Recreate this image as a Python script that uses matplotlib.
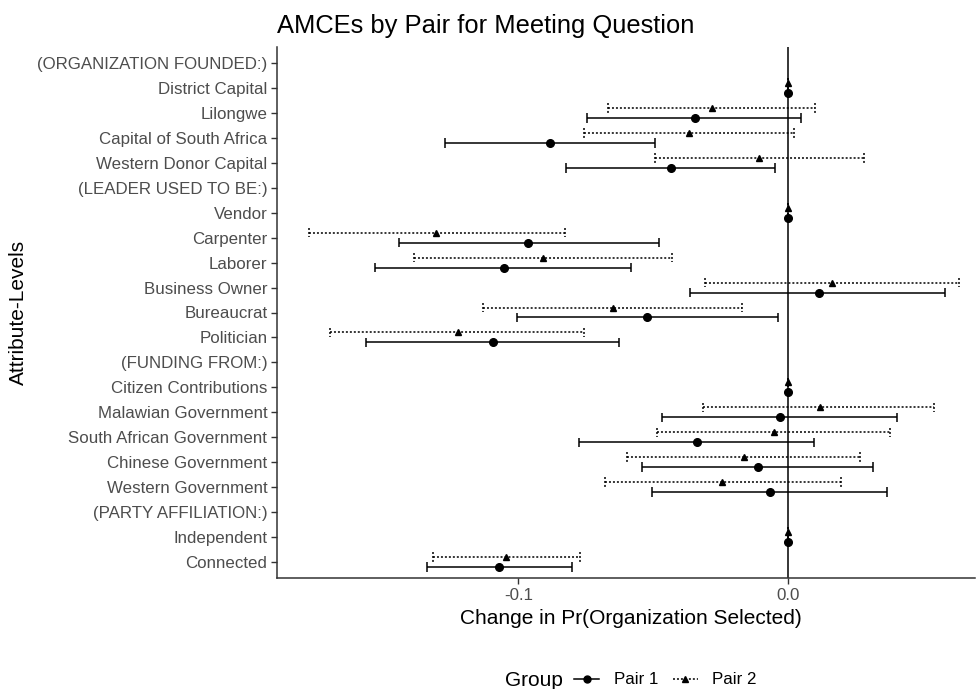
import numpy as np
import matplotlib
matplotlib.use("Agg")
import matplotlib.pyplot as plt
from matplotlib.lines import Line2D

plt.rcParams['font.family'] = ['Liberation Sans', 'DejaVu Sans']

nan = np.nan
categories = ["(ORGANIZATION FOUNDED:)", "District Capital", "Lilongwe", "Capital of South Africa",
              "Western Donor Capital", "(LEADER USED TO BE:)", "Vendor", "Carpenter", "Laborer",
              "Business Owner", "Bureaucrat", "Politician", "(FUNDING FROM:)", "Citizen Contributions",
              "Malawian Government", "South African Government", "Chinese Government",
              "Western Government", "(PARTY AFFILIATION:)", "Independent", "Connected"]

p1_est = [nan, 0, -0.0346, -0.0884, -0.0435, nan, 0, -0.0964, -0.1053, 0.0114, -0.0522, -0.1096,
          nan, 0, -0.0031, -0.0339, -0.0111, -0.0068, nan, 0, -0.1071]
p1_lo = [nan, 0, -0.0745, -0.1272, -0.0825, nan, 0, -0.1442, -0.1531, -0.0363, -0.1005, -0.1566,
         nan, 0, -0.0469, -0.0776, -0.0541, -0.0505, nan, 0, -0.1341]
p1_hi = [nan, 0, 0.0048, -0.0495, -0.0048, nan, 0, -0.0480, -0.0581, 0.0581, -0.0038, -0.0627,
         nan, 0, 0.0406, 0.0096, 0.0315, 0.0368, nan, 0, -0.0800]
p2_est = [nan, 0, -0.0283, -0.0369, -0.0108, nan, 0, -0.1306, -0.0909, 0.0162, -0.0651, -0.1224,
          nan, 0, 0.0119, -0.0053, -0.0164, -0.0245, nan, 0, -0.1045]
p2_lo = [nan, 0, -0.0667, -0.0757, -0.0495, nan, 0, -0.1778, -0.1389, -0.0308, -0.1132, -0.1699,
         nan, 0, -0.0315, -0.0485, -0.0596, -0.0680, nan, 0, -0.1316]
p2_hi = [nan, 0, 0.0101, 0.0023, 0.0283, nan, 0, -0.0826, -0.0429, 0.0634, -0.0171, -0.0755,
         nan, 0, 0.0543, 0.0379, 0.0267, 0.0197, nan, 0, -0.0772]

xticks = [-0.1, 0.0]
xticklabels = ["-0.1", "0.0"]

fig = plt.figure(figsize=(9.76, 6.89), dpi=100)
ax = fig.add_axes([277/976, (689-578)/689, (975-277)/976, (578-47)/689])

y = np.arange(len(categories))
dodge = 0.2
cap = 0.19
dot = (0, (1.3, 1.3))

ax.axvline(0, color='black', lw=1.1, zorder=1)

# Pair 2 (dotted, triangles) above
y2 = y - dodge
ax.hlines(y2, p2_lo, p2_hi, colors='black', lw=1.1, linestyles=[dot], zorder=2)
ax.vlines(p2_lo, y2 - cap, y2 + cap, colors='black', lw=1.1, linestyles=[dot], zorder=2)
ax.vlines(p2_hi, y2 - cap, y2 + cap, colors='black', lw=1.1, linestyles=[dot], zorder=2)
ax.plot(p2_est, y2, linestyle='none', marker='^', color='black', markersize=5, zorder=3)

# Pair 1 (solid, circles) below
y1 = y + dodge
ax.hlines(y1, p1_lo, p1_hi, colors='black', lw=1.1, zorder=2)
ax.vlines(p1_lo, y1 - cap, y1 + cap, colors='black', lw=1.1, zorder=2)
ax.vlines(p1_hi, y1 - cap, y1 + cap, colors='black', lw=1.1, zorder=2)
ax.plot(p1_est, y1, linestyle='none', marker='o', color='black', markersize=5.5, zorder=3)

ax.set_xlim(-0.1896, 0.0694)
ax.set_ylim(len(categories) - 1 + 0.64, -0.64)
ax.set_yticks(y)
ax.set_yticklabels(categories, color='#4D4D4D', fontsize=12.2)
ax.set_xticks(xticks)
ax.set_xticklabels(xticklabels, color='#4D4D4D', fontsize=12.2)
ax.tick_params(axis='both', length=4, width=1.0, color='#333333', pad=3)

for s in ['top', 'right']:
    ax.spines[s].set_visible(False)
for s in ['left', 'bottom']:
    ax.spines[s].set_color('#333333')
    ax.spines[s].set_linewidth(1.1)

ax.set_xlabel("Change in Pr(Organization Selected)", fontsize=15, color='black')
ax.xaxis.set_label_coords(0.507, -0.058)
ax.set_ylabel("Attribute-Levels", fontsize=15, color='black')
ax.yaxis.set_label_coords(-0.357, 0.5)

fig.text(277/976, 1 - 33/689, "AMCEs by Pair for Meeting Question", fontsize=18.4,
         ha='left', va='baseline', color='black')

fig.text(505/976, 1 - 680/689, "Group", fontsize=15, ha='left', va='center', color='black')
handles = [Line2D([], [], color='black', lw=1.1, marker='o', markersize=5),
           Line2D([], [], color='black', lw=1.1, linestyle=dot, marker='^', markersize=4.5)]
fig.legend(handles, ["Pair 1", "Pair 2"], loc='center left', bbox_to_anchor=(574/976, 1 - 680/689),
           ncol=2, frameon=False, fontsize=12.2, handlelength=1.5, handletextpad=0.85,
           columnspacing=0.85, borderaxespad=0, borderpad=0)

fig.savefig("out.png", dpi=100)
